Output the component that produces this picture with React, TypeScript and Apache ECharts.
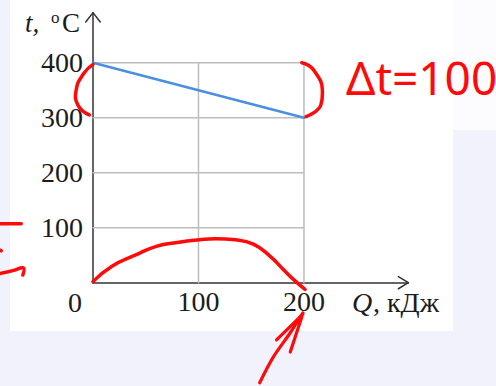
import React, { useEffect, useRef } from "react";
import * as echarts from "echarts";

// Main data: temperature vs heat
const heatQ = [0, 200];
const tempT = [400, 300];

// Tick labels
const xTickLabels = [100, 200];
const yTickLabels = [100, 200, 300, 400];

// Grid lines (data coordinates)
const hGridValues = [100, 200, 300, 400];
const vGridValues = [100, 200];
const gridXMax = 200;
const gridYMax = 400;

// Axis extents (arrow tips)
const xAxisMax = 299;
const yAxisMax = 491;

// Hand-drawn red annotations (data coordinates)
const redCurveQ = [0, 18, 40, 60, 80, 101, 116, 135, 152, 168, 180, 190, 201];
const redCurveT = [2, 30, 50, 66, 73, 78, 80, 78, 70, 48, 25, 6, -12];

const leftBracketQ = [0, -9, -16, -14, -3.5];
const leftBracketT = [397, 380, 350, 322, 305];

const rightBracketQ = [198, 209, 217.5, 216, 202];
const rightBracketT = [400, 387, 345, 323, 302];

const arrowShaftQ = [158, 171, 187, 199];
const arrowShaftT = [-182, -135, -91, -55];
const arrowHeadLeftQ = [174, 199];
const arrowHeadLeftT = [-104, -57];
const arrowHeadRightQ = [187, 198];
const arrowHeadRightT = [-126, -62];

const edgeMarkTopQ = [-90, -68];
const edgeMarkTopT = [107, 107];
const edgeMarkDotQ = [-90, -87];
const edgeMarkDotT = [61, 58];
const edgeMarkBottomQ = [-90, -76, -66, -66.5];
const edgeMarkBottomT = [16, 22, 27, 14];

// Axis arrow chevrons
const yArrowQ = [-6.9, 0, 6.9];
const yArrowT = [474, 491, 474];
const xArrowQ = [289.5, 299, 289.5];
const xArrowT = [11, 0, -11];

const zip = (a: number[], b: number[]) => a.map((v, i) => [v, b[i]]);

export default function App() {
  const ref = useRef<HTMLDivElement>(null);

  useEffect(() => {
    if (!ref.current) return;
    const chart = echarts.init(ref.current, null, { renderer: "svg" });

    const serif = "'Liberation Serif', 'DejaVu Serif', serif";
    const textColor = "#1c1c1c";
    const red = "#ff0a0a";

    const lineSeries = (
      data: number[][],
      color: string,
      width: number,
      smooth: number | boolean,
      z: number
    ) => ({
      type: "line",
      data,
      showSymbol: false,
      symbol: "none",
      smooth,
      clip: false,
      silent: true,
      z,
      lineStyle: { color, width, cap: "round", join: "round" },
    });

    const series: any[] = [];
    hGridValues.forEach((v) =>
      series.push(lineSeries([[0, v], [gridXMax, v]], "#bdbdbd", 1.5, false, 1))
    );
    vGridValues.forEach((v) =>
      series.push(lineSeries([[v, 0], [v, gridYMax]], "#bdbdbd", 1.5, false, 1))
    );
    series.push(lineSeries(zip(xArrowQ, xArrowT), "#333", 1.5, false, 3));
    series.push(lineSeries(zip(heatQ, tempT), "#4a8fe2", 2.5, false, 4));
    series.push(lineSeries(zip(redCurveQ, redCurveT), red, 3.5, 0.5, 5));
    series.push(lineSeries(zip(rightBracketQ, rightBracketT), red, 3.5, 0.5, 5));
    series.push(lineSeries(zip(arrowShaftQ, arrowShaftT), red, 3.2, 0.3, 5));
    series.push(lineSeries(zip(arrowHeadLeftQ, arrowHeadLeftT), red, 3.2, false, 5));
    series.push(lineSeries(zip(arrowHeadRightQ, arrowHeadRightT), red, 3.2, false, 5));

    const baseGraphics: any[] = [
      { id: "bg1", type: "rect", z: -10, silent: true, shape: { x: 10, y: 0, width: 443, height: 331 }, style: { fill: "#ffffff" } },
      { id: "bg2", type: "rect", z: -10, silent: true, shape: { x: 453, y: 0, width: 43, height: 130 }, style: { fill: "#fcfcff" } },
      { id: "t0", type: "text", x: 75, y: 302, style: { text: "0", font: `28px ${serif}`, fill: textColor, align: "center", verticalAlign: "middle" } },
      { id: "t1", type: "text", x: 25, y: 23, style: { text: "t,", font: `italic 27px ${serif}`, fill: textColor, align: "left", verticalAlign: "middle" } },
      { id: "t2", type: "text", x: 51, y: 17, style: { text: "o", font: `17px ${serif}`, fill: textColor, align: "left", verticalAlign: "middle" } },
      { id: "t3", type: "text", x: 62, y: 23, style: { text: "C", font: `27px ${serif}`, fill: textColor, align: "left", verticalAlign: "middle" } },
      { id: "t4", type: "text", x: 352, y: 302, style: { text: "Q", font: `italic 28px ${serif}`, fill: textColor, align: "left", verticalAlign: "middle" } },
      { id: "t5", type: "text", x: 373, y: 302, style: { text: ", кДж", font: `28px ${serif}`, fill: textColor, align: "left", verticalAlign: "middle" } },
      { id: "t6", type: "text", x: 346, y: 77, style: { text: "Δt=100", font: `46px 'Noto Sans', sans-serif`, fill: red, align: "left", verticalAlign: "middle" } },
    ];

    chart.setOption({
      animation: false,
      backgroundColor: "#f1f2fb",
      grid: { left: 93, right: 87.6, top: 12.65, bottom: 103.3, containLabel: false },
      xAxis: {
        type: "value",
        min: 0,
        max: xAxisMax,
        interval: 100,
        axisLine: { show: true, onZero: false, lineStyle: { color: "#333", width: 1.5 } },
        axisTick: { show: false },
        splitLine: { show: false },
        axisLabel: {
          customValues: xTickLabels,
          formatter: (v: number) => (xTickLabels.includes(v) ? String(v) : ""),
          margin: 5,
          fontFamily: serif,
          fontSize: 28,
          color: textColor,
        },
      },
      yAxis: {
        type: "value",
        min: 0,
        max: yAxisMax,
        interval: 100,
        axisLine: { show: true, onZero: false, lineStyle: { color: "#333", width: 1.5 } },
        axisTick: { show: false },
        splitLine: { show: false },
        axisLabel: {
          customValues: yTickLabels,
          formatter: (v: number) => (yTickLabels.includes(v) ? String(v) : ""),
          margin: 10,
          fontFamily: serif,
          fontSize: 28,
          color: textColor,
        },
      },
      graphic: baseGraphics,
      series,
    });

    // Annotations lying left of the axis: positioned through the chart's own scales
    const toPx = (q: number[], t: number[]) =>
      q.map((v, i) => chart.convertToPixel({ gridIndex: 0 }, [v, t[i]]) as number[]);
    const stroke = (
      id: string,
      q: number[],
      t: number[],
      color: string,
      width: number,
      smooth: number
    ) => ({
      id,
      type: "polyline",
      z: 60,
      silent: true,
      shape: { points: toPx(q, t), smooth },
      style: { stroke: color, lineWidth: width, fill: null, lineCap: "round", lineJoin: "round" },
    });

    chart.setOption({
      graphic: [
        ...baseGraphics,
        stroke("yArrow", yArrowQ, yArrowT, "#333", 1.5, 0),
        stroke("lb", leftBracketQ, leftBracketT, red, 3.5, 0.5),
        stroke("em1", edgeMarkTopQ, edgeMarkTopT, red, 3.5, 0),
        stroke("em2", edgeMarkDotQ, edgeMarkDotT, red, 3.5, 0),
        stroke("em3", edgeMarkBottomQ, edgeMarkBottomT, red, 3.5, 0.4),
      ],
    });

    return () => chart.dispose();
  }, []);

  return (
    <div
      ref={ref}
      style={{ position: "fixed", left: 0, top: 0, width: 496, height: 386 }}
    />
  );
}
